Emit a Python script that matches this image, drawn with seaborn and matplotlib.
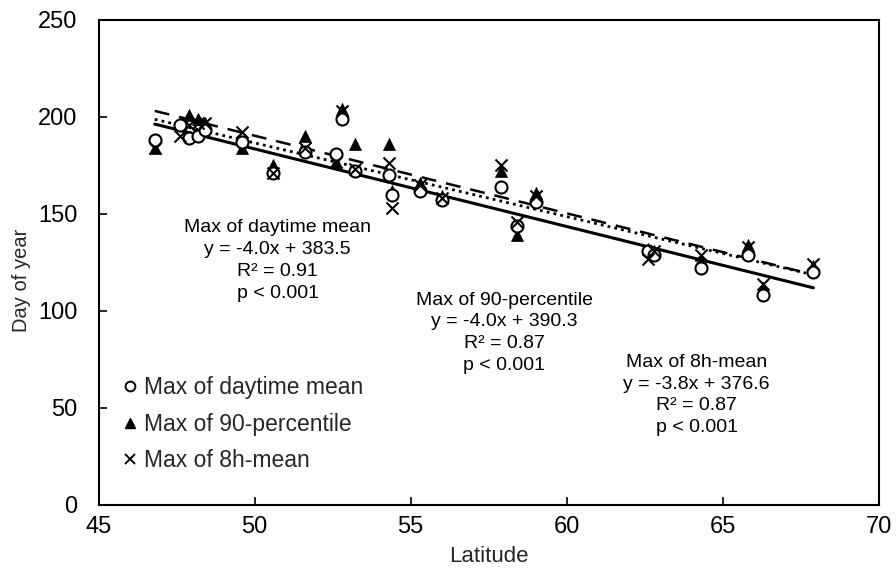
import numpy as np
import pandas as pd
import matplotlib
matplotlib.use("Agg")
import matplotlib.pyplot as plt
from matplotlib.lines import Line2D
import seaborn as sns

# values
latitude = [46.8, 47.6, 47.9, 48.2, 48.4, 49.6, 50.6, 51.6, 52.6, 52.8, 53.2, 54.3,
            54.4, 55.3, 56.0, 57.9, 58.4, 59.0, 62.6, 62.8, 64.3, 65.8, 66.3, 67.9]
daytime_mean = [188, 196, 189, 190, 193, 187, 171, 182, 181, 199, 172, 170,
                160, 162, 157, 164, 144, 156, 131, 129, 122, 129, 108, 120]
pct90 = [184, 197, 201, 199, 197, 184, 175, 190, 177, 204, 186, 186,
         162, 166, 159, 172, 139, 161, 132, 131, 126, 134, 112, 123]
mean8h = [184, 190, 196, 197, 197, 192, 171, 184, 177, 203, 173, 176,
          153, 165, 158, 175, 146, 159, 127, 131, 129, 133, 114, 124]

series_names = ["Max of daytime mean", "Max of 90-percentile", "Max of 8h-mean"]
slopes = [-4.0, -4.0, -3.8]
intercepts = [383.5, 390.3, 376.6]
r2_vals = ["0.91", "0.87", "0.87"]
p_text = "p < 0.001"

df = pd.DataFrame({"lat": latitude, "day": daytime_mean, "p90": pct90, "h8": mean8h})

sns.set_theme(style="ticks")
plt.rcParams["font.family"] = ["Liberation Sans", "DejaVu Sans"]

fig = plt.figure(figsize=(8.96, 5.68), dpi=100)
ax = fig.add_axes([0.110, 0.111, 0.871, 0.854])

# regression lines
x_line = np.array([min(latitude), max(latitude)])
styles = [dict(linestyle="-", linewidth=2.2),
          dict(linestyle=(0, (6, 4)), linewidth=1.8),
          dict(linestyle=(0, (1, 1.5)), linewidth=2.0)]
for k in range(3):
    sns.lineplot(x=x_line, y=slopes[k] * x_line + intercepts[k], ax=ax,
                 color="black", zorder=2, **styles[k])

# points
sns.scatterplot(data=df, x="lat", y="day", ax=ax, marker="o", s=75,
                facecolor="white", edgecolor="black", linewidth=1.5, zorder=4)
sns.scatterplot(data=df, x="lat", y="p90", ax=ax, marker="^", s=75,
                color="black", edgecolor="black", linewidth=0.5, zorder=3)
sns.scatterplot(data=df, x="lat", y="h8", ax=ax, marker="x", s=75,
                color="black", linewidth=1.5, zorder=5)

ax.set_xlim(45, 70)
ax.set_ylim(0, 250)
ax.set_xticks(range(45, 71, 5))
ax.set_yticks(range(0, 251, 50))
ax.tick_params(direction="in", length=6, width=1.2, labelsize=17, colors="black")
ax.tick_params(axis="x", pad=8)
ax.tick_params(axis="y", pad=15)
for sp in ax.spines.values():
    sp.set_linewidth(1.5)
    sp.set_color("black")
ax.set_xlabel("Latitude", fontsize=16, labelpad=6)
ax.set_ylabel("Day of year", fontsize=14.5)
ax.yaxis.set_label_coords(-0.086, 0.464)

# annotations
ann_pos = [(50.74, 147.5), (58.0, 110), (64.16, 78)]
for k in range(3):
    txt = "%s\ny = %.1fx + %.1f\nR² = %s\n%s" % (series_names[k], slopes[k],
                                                intercepts[k], r2_vals[k], p_text)
    ax.text(ann_pos[k][0], ann_pos[k][1], txt, ha="center", va="top",
            fontsize=14, linespacing=1.38, color="black")

handles = [Line2D([], [], marker="o", linestyle="none", markerfacecolor="white",
                  markeredgecolor="black", markeredgewidth=1.4, markersize=7),
           Line2D([], [], marker="^", linestyle="none", color="black", markersize=7),
           Line2D([], [], marker="x", linestyle="none", color="black",
                  markeredgewidth=1.4, markersize=7)]
ax.legend(handles, series_names, loc="upper left", bbox_to_anchor=(0.02, 0.285),
          frameon=False, fontsize=16.5, handlelength=0.6, handletextpad=0.3,
          labelspacing=0.6, borderaxespad=0)

fig.savefig("out.png", dpi=100)
